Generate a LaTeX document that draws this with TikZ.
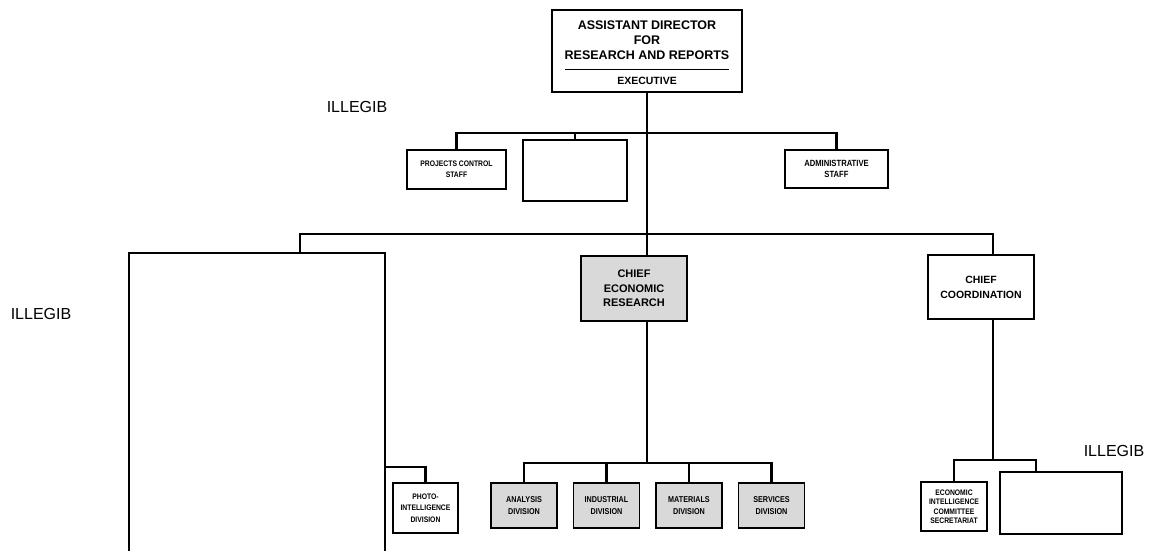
\documentclass[tikz,border=0pt]{standalone}
\usepackage{fontspec}
\setmainfont{Liberation Sans}
\newfontfamily\cond[FakeStretch=0.85]{Liberation Sans}

\begin{document}
\begin{tikzpicture}[x=1pt, y=-1pt]
        \tikzstyle{box}=[draw, line width=1.3pt, inner sep=0pt, align=center]
        \tikzstyle{shaded}=[box, fill=gray!30]
        \tikzstyle{link}=[line width=2.6pt]
        \tikzstyle{illegib}=[font=\fontsize{16}{19}\selectfont]

        \useasboundingbox (0,0) rectangle (1159,550);

        % head
        \node   (ad)    [box, minimum width=190pt, minimum height=82pt] at (647,51) {};
        \node   (adt)   [align=center, font=\fontsize{12.5}{15}\selectfont\bfseries] at (647,40) {ASSISTANT DIRECTOR\\FOR\\RESEARCH AND REPORTS};
        \node   (ex)    [font=\fontsize{10.5}{12}\selectfont\bfseries] at (647,81) {EXECUTIVE};
        \draw[line width=1pt] (565,69) -- (729,69);

        % staff
        \node   (pcs)   [box, minimum width=99pt, minimum height=39pt, font=\cond\fontsize{8}{11}\selectfont\bfseries] at (456.5,169.5) {PROJECTS CONTROL\\STAFF};
        \node   (b1)    [box, minimum width=104pt, minimum height=61pt] at (575,170.5) {};
        \node   (as)    [box, minimum width=103pt, minimum height=38pt, font=\cond\fontsize{9}{11}\selectfont\bfseries] at (836.5,169) {ADMINISTRATIVE\\STAFF};

        % chiefs
        \node   (big)   [box, minimum width=256pt, minimum height=307pt] at (257,406.5) {};
        \node   (ce)    [shaded, minimum width=106pt, minimum height=65pt, font=\fontsize{11}{14.5}\selectfont\bfseries] at (634,288.5) {CHIEF\\ECONOMIC\\RESEARCH};
        \node   (cc)    [box, minimum width=106pt, minimum height=64pt, font=\fontsize{10.5}{15}\selectfont\bfseries] at (981,287) {CHIEF\\COORDINATION};

        % divisions
        \node   (pid)   [box, minimum width=65pt, minimum height=50pt, font=\cond\fontsize{8}{11.5}\selectfont\bfseries] at (425.5,508) {PHOTO-\\INTELLIGENCE\\DIVISION};
        \node   (ana)   [shaded, minimum width=66pt, minimum height=45pt, font=\cond\fontsize{8.5}{12}\selectfont\bfseries] at (524,505.5) {ANALYSIS\\DIVISION};
        \node   (ind)   [shaded, minimum width=66pt, minimum height=45pt, font=\cond\fontsize{8.5}{12}\selectfont\bfseries] at (606.5,505.5) {INDUSTRIAL\\DIVISION};
        \node   (mat)   [shaded, minimum width=66pt, minimum height=45pt, font=\cond\fontsize{8.5}{12}\selectfont\bfseries] at (689,505.5) {MATERIALS\\DIVISION};
        \node   (ser)   [shaded, minimum width=66pt, minimum height=45pt, font=\cond\fontsize{8.5}{12}\selectfont\bfseries] at (771.5,505.5) {SERVICES\\DIVISION};
        \node   (eic)   [box, minimum width=66pt, minimum height=49pt, font=\cond\fontsize{8}{9.5}\selectfont\bfseries] at (954,506.5) {ECONOMIC\\INTELLIGENCE\\COMMITTEE\\SECRETARIAT};
        \node   (b2)    [box, minimum width=122pt, minimum height=62pt] at (1061,503) {};

        \node   (il1)   [illegib] at (357,107) {ILLEGIB};
        \node   (il2)   [illegib] at (41,314) {ILLEGIB};
        \node   (il3)   [illegib] at (1114,451) {ILLEGIB};

        \coordinate (j1) at (647,133);
        \coordinate (j2) at (647,234);
        \coordinate (j3) at (647,463);
        \coordinate (j4) at (993,460);

        \draw[link] (ad.south) -- (ce.north -| j1);
        \draw[link] (ce.south -| j1) -- (j3);
        \draw[link] (pcs.north) |- (j1) -| (as.north);
        \draw[link] (b1.north) -- (b1.north |- j1);
        \draw[link] ([xshift=43pt]big.north) |- (j2) -| ([xshift=12pt]cc.north);
        \draw[link] (big.east |- 0,467) -| (pid.north);
        \draw[link] (ana.north) |- (j3) -| (ser.north);
        \draw[link] (ind.north) -- (ind.north |- j3);
        \draw[link] (mat.north) -- (mat.north |- j3);
        \draw[link] ([xshift=12pt]cc.south) -- (j4);
        \draw[link] (eic.north) |- (j4) -| ([xshift=-25pt]b2.north);

    \end{tikzpicture}
\end{document}
